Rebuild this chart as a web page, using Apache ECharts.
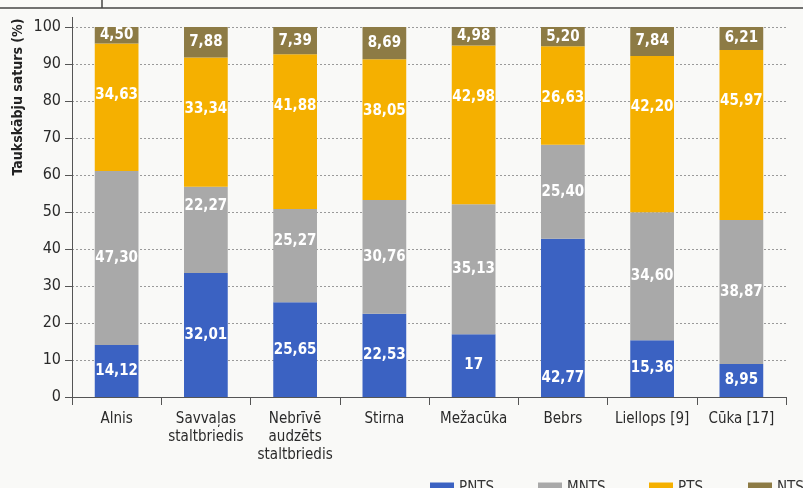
<!DOCTYPE html>
<html>
<head>
<meta charset="utf-8">
<script src="https://cdn.jsdelivr.net/npm/echarts@6/dist/echarts.min.js"></script>
<style>
html,body{margin:0;padding:0;background:#f9f9f7;}
#c{width:803px;height:488px;}
</style>
</head>
<body>
<div id="c"></div>
<script>
const categories = ['Alnis', 'Savvaļas\nstaltbriedis', 'Nebrīvē\naudzēts\nstaltbriedis', 'Stirna', 'Mežacūka', 'Bebrs', 'Liellops [9]', 'Cūka [17]'];
const seriesNames = ['PNTS', 'MNTS', 'PTS', 'NTS'];
const PNTS = [14.12, 32.01, 25.65, 22.53, 17, 42.77, 15.36, 8.95];
const MNTS = [47.30, 22.27, 25.27, 30.76, 35.13, 25.40, 34.60, 38.87];
const PTS  = [34.63, 33.34, 41.88, 38.05, 42.98, 26.63, 42.20, 45.97];
const NTS  = [4.50, 7.88, 7.39, 8.69, 4.98, 5.20, 7.84, 6.21];
const yMin = 0, yMax = 100, yStep = 10;
const yAxisTitle = 'Taukskābju saturs (%)';

const FONT = "'Liberation Sans Narrow', 'DejaVu Sans Condensed', 'Roboto', sans-serif";
const colors = ['#3b62c2', '#a9a9a9', '#f5b000', '#8d7b45'];
const raw = [PNTS, MNTS, PTS, NTS];
const totals = categories.map((_, i) => raw.reduce((s, a) => s + a[i], 0));

function fmt(v) {
  return Number.isInteger(v) ? String(v) : v.toFixed(2).replace('.', ',');
}

// label placement tweaks (style only)
const labelOffsets = {
  '0-5': [0, 60],
  '1-1': [0, -24],
  '1-2': [0, -15]
};

const series = seriesNames.map((name, si) => ({
  name: name,
  type: 'bar',
  stack: 'total',
  barWidth: '49%',
  itemStyle: { color: colors[si] },
  label: {
    show: true,
    position: si === 2 ? 'insideTop' : 'inside',
    distance: si === 2 ? 44 : 5,
    color: '#ffffff',
    fontFamily: FONT,
    fontWeight: 'bold',
    fontSize: 15,
    formatter: p => fmt(raw[si][p.dataIndex])
  },
  data: raw[si].map((v, i) => {
    const item = { value: v / totals[i] * 100 };
    const off = labelOffsets[si + '-' + i];
    if (off) item.label = { offset: off };
    return item;
  })
}));

const legends = seriesNames.map((name, i) => ({
  data: [{ name: name, icon: 'rect' }],
  left: [425, 533, 644, 743][i],
  top: 476,
  itemWidth: 24,
  itemHeight: 12,
  itemGap: 0,
  textStyle: { fontFamily: FONT, fontSize: 15, color: '#333' },
  selectedMode: false
}));

const chart = echarts.init(document.getElementById('c'), null, { renderer: 'canvas' });
chart.setOption({
  backgroundColor: '#f9f9f7',
  animation: false,
  color: colors,
  grid: { left: 72, right: 17, top: 27, bottom: 91 },
  legend: legends,
  xAxis: {
    type: 'category',
    data: categories,
    axisLine: { lineStyle: { color: '#555', width: 1 } },
    axisTick: { show: true, length: 8, lineStyle: { color: '#555' } },
    axisLabel: {
      fontFamily: FONT, fontSize: 15, color: '#2a2a2a',
      margin: 13, lineHeight: 18, interval: 0
    }
  },
  yAxis: {
    type: 'value',
    min: yMin, max: yMax, interval: yStep,
    axisLine: { show: true, lineStyle: { color: '#555', width: 1 } },
    axisTick: { show: true, length: 7, lineStyle: { color: '#555' } },
    axisLabel: { fontFamily: FONT, fontSize: 16, color: '#2a2a2a', margin: 11 },
    splitLine: { show: true, lineStyle: { color: '#9a9a9a', type: [2, 2], width: 1 } }
  },
  graphic: [
    {
      type: 'text',
      x: 18, y: 97,
      rotation: Math.PI / 2,
      style: {
        text: yAxisTitle,
        fontFamily: FONT, fontSize: 14, fontWeight: 'bold', fill: '#222',
        align: 'center', verticalAlign: 'middle'
      }
    },
    { type: 'line', shape: { x1: 0, y1: 8, x2: 803, y2: 8 }, style: { stroke: '#444', lineWidth: 1.5 } },
    { type: 'line', shape: { x1: 102, y1: 0, x2: 102, y2: 8 }, style: { stroke: '#444', lineWidth: 1.5 } },
    { type: 'line', shape: { x1: 72.5, y1: 17, x2: 72.5, y2: 27 }, style: { stroke: '#555', lineWidth: 1 } }
  ],
  series: series
});
</script>
</body>
</html>
